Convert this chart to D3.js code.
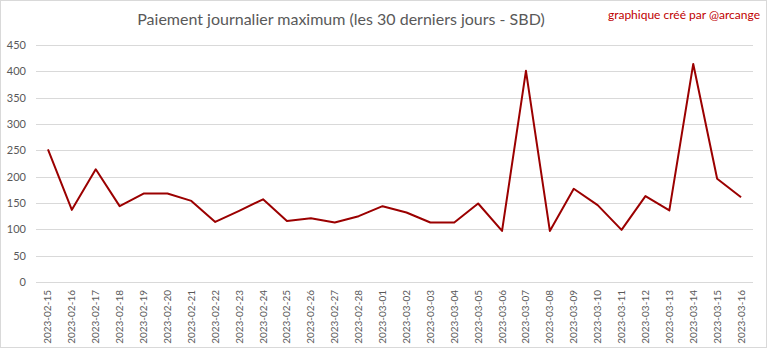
<!DOCTYPE html>
<html>
<head>
<meta charset="utf-8">
<script src="https://cdn.jsdelivr.net/npm/d3@7"></script>
<style>
  html, body { margin: 0; padding: 0; background: #fff; }
  svg { display: block; }
</style>
</head>
<body>
<svg id="chart" width="768" height="349"></svg>
<script>
// Daily maximum payout, last 30 days (SBD)
const dates = [
  "2023-02-15","2023-02-16","2023-02-17","2023-02-18","2023-02-19","2023-02-20",
  "2023-02-21","2023-02-22","2023-02-23","2023-02-24","2023-02-25","2023-02-26",
  "2023-02-27","2023-02-28","2023-03-01","2023-03-02","2023-03-03","2023-03-04",
  "2023-03-05","2023-03-06","2023-03-07","2023-03-08","2023-03-09","2023-03-10",
  "2023-03-11","2023-03-12","2023-03-13","2023-03-14","2023-03-15","2023-03-16"
];
const maxPayout = [
  252, 137, 214, 144, 168, 168,
  154, 114, 135, 157, 116, 121,
  113, 125, 144, 132, 113, 113,
  149, 97, 401, 97, 177, 146,
  99, 163, 136, 414, 196, 161
];
const yTicks = [0, 50, 100, 150, 200, 250, 300, 350, 400, 450];
const titleText = "Paiement journalier maximum (les 30 derniers jours - SBD)";
const creditText = "graphique créé par @arcange";

const W = 768, H = 349;
const margin = { left: 36, right: 15, top: 45, bottom: 67 };
const svg = d3.select("#chart");
const font = "Lato, 'Open Sans', sans-serif";

// outer frame
svg.append("rect")
  .attr("x", 0.5).attr("y", 0.5)
  .attr("width", W - 2).attr("height", H - 2)
  .attr("fill", "#fff").attr("stroke", "#d9d9d9");

const x = d3.scaleBand().domain(dates).range([margin.left, W - margin.right]);
const y = d3.scaleLinear().domain([0, 450]).range([H - margin.bottom, margin.top]);

// horizontal gridlines
svg.append("g")
  .selectAll("line").data(yTicks).join("line")
  .attr("x1", margin.left).attr("x2", W - margin.right)
  .attr("y1", d => Math.round(y(d)) + 0.5).attr("y2", d => Math.round(y(d)) + 0.5)
  .attr("stroke", "#d9d9d9").attr("stroke-width", 1);

// y axis labels
const yAxis = svg.append("g")
  .attr("transform", `translate(${margin.left - 10},0)`)
  .call(d3.axisLeft(y).tickValues(yTicks).tickSize(0).tickPadding(0));
yAxis.select(".domain").remove();
yAxis.selectAll("text")
  .attr("fill", "#595959").attr("font-size", "11px").attr("font-family", font);

// x axis labels (rotated)
const xAxis = svg.append("g")
  .attr("transform", `translate(0,${H - margin.bottom})`)
  .call(d3.axisBottom(x).tickSize(0).tickPadding(0));
xAxis.select(".domain").remove();
xAxis.selectAll("text")
  .attr("fill", "#595959").attr("font-size", "10px").attr("font-family", font)
  .attr("text-anchor", "end")
  .attr("dy", "0.35em")
  .attr("transform", "translate(0,8) rotate(-90)");

// series line
const line = d3.line()
  .x((d, i) => x(dates[i]) + x.bandwidth() / 2)
  .y(d => y(d));
svg.append("path")
  .datum(maxPayout)
  .attr("d", line)
  .attr("fill", "none")
  .attr("stroke", "#9b0000")
  .attr("stroke-width", 2)
  .attr("stroke-linejoin", "round");

// title
svg.append("text")
  .attr("x", 341).attr("y", 25)
  .attr("text-anchor", "middle")
  .attr("fill", "#595959").attr("font-size", "16px").attr("font-family", font)
  .text(titleText);

// credit
svg.append("text")
  .attr("x", 760).attr("y", 19)
  .attr("text-anchor", "end")
  .attr("fill", "#c00000").attr("font-size", "12px").attr("font-family", font)
  .text(creditText);
</script>
</body>
</html>
